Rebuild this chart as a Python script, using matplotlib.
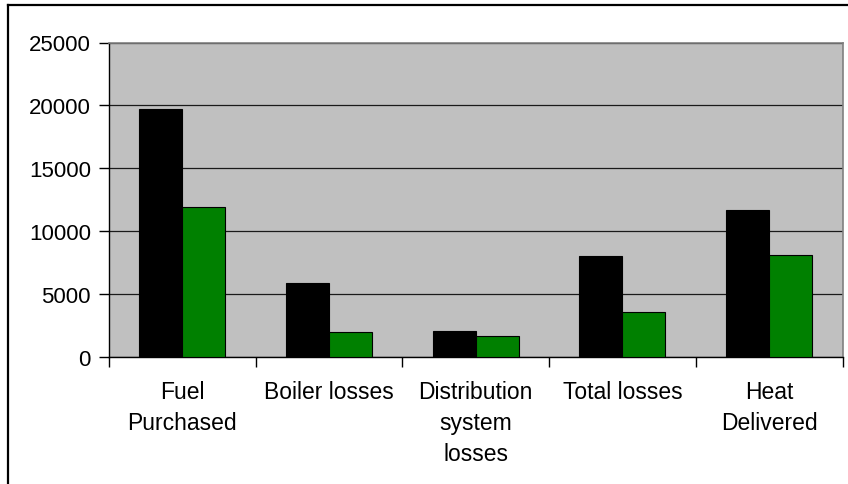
import matplotlib
matplotlib.use("Agg")
import matplotlib.pyplot as plt
import numpy as np
from matplotlib.lines import Line2D

categories = ["Fuel\nPurchased", "Boiler losses", "Distribution\nsystem\nlosses",
              "Total losses", "Heat\nDelivered"]
series_black = [19700, 5900, 2100, 8000, 11700]
series_green = [11900, 1950, 1650, 3600, 8100]
y_ticks = [0, 5000, 10000, 15000, 20000, 25000]

plt.rcParams["font.family"] = ["Liberation Sans", "DejaVu Sans"]

fig = plt.figure(figsize=(8.48, 4.85), dpi=100)
ax = fig.add_axes([109 / 848, 1 - 358 / 485, (842.5 - 109) / 848, (358 - 43.5) / 485])

x = np.arange(len(categories))
w = 0.293
ax.bar(x - w / 2, series_black, width=w, color="#000000", edgecolor="#000000",
       linewidth=0.8, zorder=3)
ax.bar(x + w / 2, series_green, width=w, color="#008000", edgecolor="#000000",
       linewidth=0.8, zorder=3)

ax.set_facecolor("#C0C0C0")
ax.set_xlim(-0.5, len(categories) - 0.5)
ax.set_ylim(0, 25000)
ax.set_yticks(y_ticks)
ax.set_yticklabels([str(t) for t in y_ticks], fontsize=16)
ax.yaxis.grid(True, color="#1a1a1a", linewidth=0.9, zorder=1)
ax.set_axisbelow(True)

ax.set_xticks(np.arange(len(categories) + 1) - 0.5)
ax.set_xticklabels([])
ax.set_xticks(x, minor=True)
ax.set_xticklabels(categories, minor=True, fontsize=16.5, linespacing=1.44, va="top")
ax.tick_params(axis="x", which="minor", length=0, pad=16.5)
ax.tick_params(axis="x", which="major", length=7, width=1, direction="out", color="#000000")
ax.tick_params(axis="y", length=7, width=1, direction="out", color="#000000", pad=6)

for side in ("top", "right"):
    ax.spines[side].set_color("#808080")
    ax.spines[side].set_linewidth(1.2)
for side in ("left", "bottom"):
    ax.spines[side].set_color("#000000")
    ax.spines[side].set_linewidth(1.0)

# Outer chart frame (left and top edges)
fig.add_artist(Line2D([8 / 848, 8 / 848], [0, 1 - 6 / 485], transform=fig.transFigure,
                      color="#000000", linewidth=1.6))
fig.add_artist(Line2D([8 / 848, 1], [1 - 6 / 485, 1 - 6 / 485], transform=fig.transFigure,
                      color="#000000", linewidth=1.6))

fig.savefig("out.png", dpi=100, facecolor="white")
